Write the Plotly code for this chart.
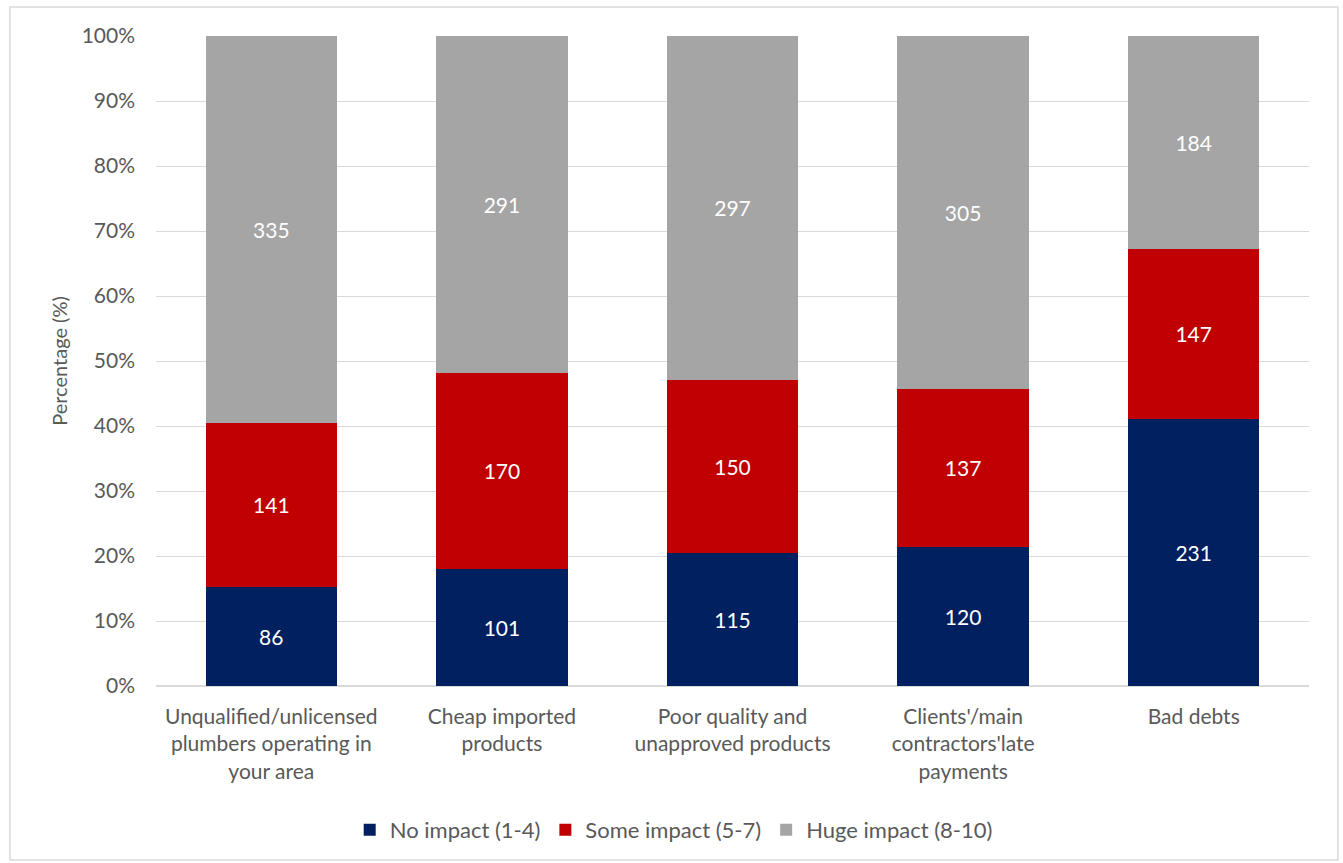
import plotly.graph_objects as go

categories = [
    "Unqualified/unlicensed<br>plumbers operating in<br>your area",
    "Cheap imported<br>products",
    "Poor quality and<br>unapproved products",
    "Clients'/main<br>contractors'late<br>payments",
    "Bad debts",
]
no_impact = [86, 101, 115, 120, 231]
some_impact = [141, 170, 150, 137, 147]
huge_impact = [335, 291, 297, 305, 184]

series = [
    ("No impact (1-4)", no_impact, "#002060"),
    ("Some impact (5-7)", some_impact, "#C00000"),
    ("Huge impact (8-10)", huge_impact, "#A5A5A5"),
]

FONT = "Lato, 'Open Sans', sans-serif"
fig = go.Figure()
for name, vals, col in series:
    fig.add_trace(go.Bar(
        x=categories, y=vals, name=name, marker_color=col,
        marker_line_width=0,
        text=[str(v) for v in vals], textposition="inside",
        insidetextanchor="middle",
        textfont=dict(color="white", size=21, family=FONT),
        hoverinfo="skip",
    ))

fig.update_layout(
    barmode="stack", barnorm="percent", bargap=0.43,
    width=1343, height=863,
    margin=dict(l=156, r=34, t=36, b=177, autoexpand=False),
    paper_bgcolor="white", plot_bgcolor="white",
    font=dict(family=FONT, size=21, color="#595959"),
    legend=dict(orientation="h", x=0.449, xanchor="center", y=-0.189, yanchor="top",
                font=dict(size=22, color="#595959"), traceorder="normal"),
    uniformtext=dict(mode="show", minsize=10),
    showlegend=True,
)
fig.update_yaxes(
    range=[0, 100], tickvals=list(range(0, 101, 10)),
    ticktext=[f"{v}%" for v in range(0, 101, 10)],
    showgrid=True, gridcolor="#D9D9D9", gridwidth=1,
    zeroline=True, zerolinecolor="#D9D9D9",
    ticks="", ticklabelstandoff=20, tickfont=dict(size=21),
    automargin=False,
    title=dict(text="Percentage (%)", standoff=8, font=dict(size=20, color="#595959")),
)
fig.update_xaxes(showline=False, ticks="", ticklabelstandoff=16, automargin=False,
                 tickfont=dict(size=21, color="#595959"))

fig.add_shape(type="rect", xref="paper", yref="paper",
              x0=-0.1266, x1=1.0251, y0=-0.2677, y1=1.0446,
              line=dict(color="#D9D9D9", width=1.5), layer="below")

fig.write_html("out.html")
